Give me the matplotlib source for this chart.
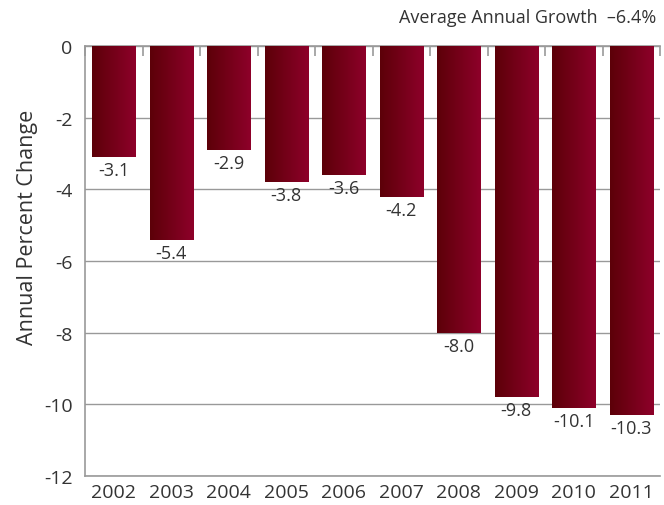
import numpy as np
import matplotlib
matplotlib.use('Agg')
import matplotlib.pyplot as plt
from matplotlib.colors import LinearSegmentedColormap

plt.rcParams['font.family'] = ['Open Sans', 'DejaVu Sans']

# データ
years = ['2002', '2003', '2004', '2005', '2006', '2007', '2008', '2009', '2010', '2011']
change = [-3.1, -5.4, -2.9, -3.8, -3.6, -4.2, -8.0, -9.8, -10.1, -10.3]
labels = ['-3.1', '-5.4', '-2.9', '-3.8', '-3.6', '-4.2', '-8.0', '-9.8', '-10.1', '-10.3']
yticks = [0, -2, -4, -6, -8, -10, -12]
title = 'Average Annual Growth  \u20136.4%'
ylabel = 'Annual Percent Change'

text_col = '#333333'
axis_col = '#999999'
grad = LinearSegmentedColormap.from_list('bar', ['#5c0008', '#8e002a'])

fig = plt.figure(figsize=(6.64, 5.06), dpi=100)
ax = fig.add_axes([85 / 664, 1 - 477 / 506, 575 / 664, 430 / 506])

x = np.arange(len(years))
bars = ax.bar(x, change, width=0.75, color='none', edgecolor='none', zorder=3)

# グラデーション
g = np.linspace(0, 1, 256).reshape(1, -1)
for b in bars:
    x0, y0 = b.get_x(), b.get_y()
    w, h = b.get_width(), b.get_height()
    im = ax.imshow(g, cmap=grad, aspect='auto', zorder=3,
                   extent=[x0, x0 + w, y0 + h, y0])
    im.set_clip_path(b)

for xi, v, lab in zip(x, change, labels):
    ax.annotate(lab, (xi, v), xytext=(0, -3), textcoords='offset points',
                ha='center', va='top', fontsize=13, color=text_col, zorder=4)

ax.set_xlim(-0.5, len(years) - 0.5)
ax.set_ylim(-12, 0)
ax.set_yticks(yticks)
ax.set_yticklabels([str(t) for t in yticks])
ax.yaxis.grid(True, color=axis_col, lw=1)
ax.set_axisbelow(True)
ax.tick_params(axis='y', length=0, labelsize=14, labelcolor=text_col, pad=9)

# 上部の区切り目盛
ax.set_xticks(np.arange(len(years) + 1) - 0.5, minor=True)
ax.set_xticks(x)
ax.set_xticklabels(years)
ax.tick_params(axis='x', which='major', length=0, labelsize=14, labelcolor=text_col, pad=5)
ax.tick_params(axis='x', which='minor', top=True, bottom=False, direction='in',
               length=7, color=axis_col, width=1.2)

for s in ['left', 'top', 'bottom']:
    ax.spines[s].set_color(axis_col)
    ax.spines[s].set_linewidth(1.2)
ax.spines['right'].set_visible(False)

fig.text(28 / 664, 1 - 227 / 506, ylabel, rotation=90, ha='center', va='center',
         fontsize=15.5, color=text_col)
fig.text(656 / 664, 1 - 18 / 506, title, ha='right', va='center',
         fontsize=13, color=text_col)

plt.savefig('out.png', dpi=100)
